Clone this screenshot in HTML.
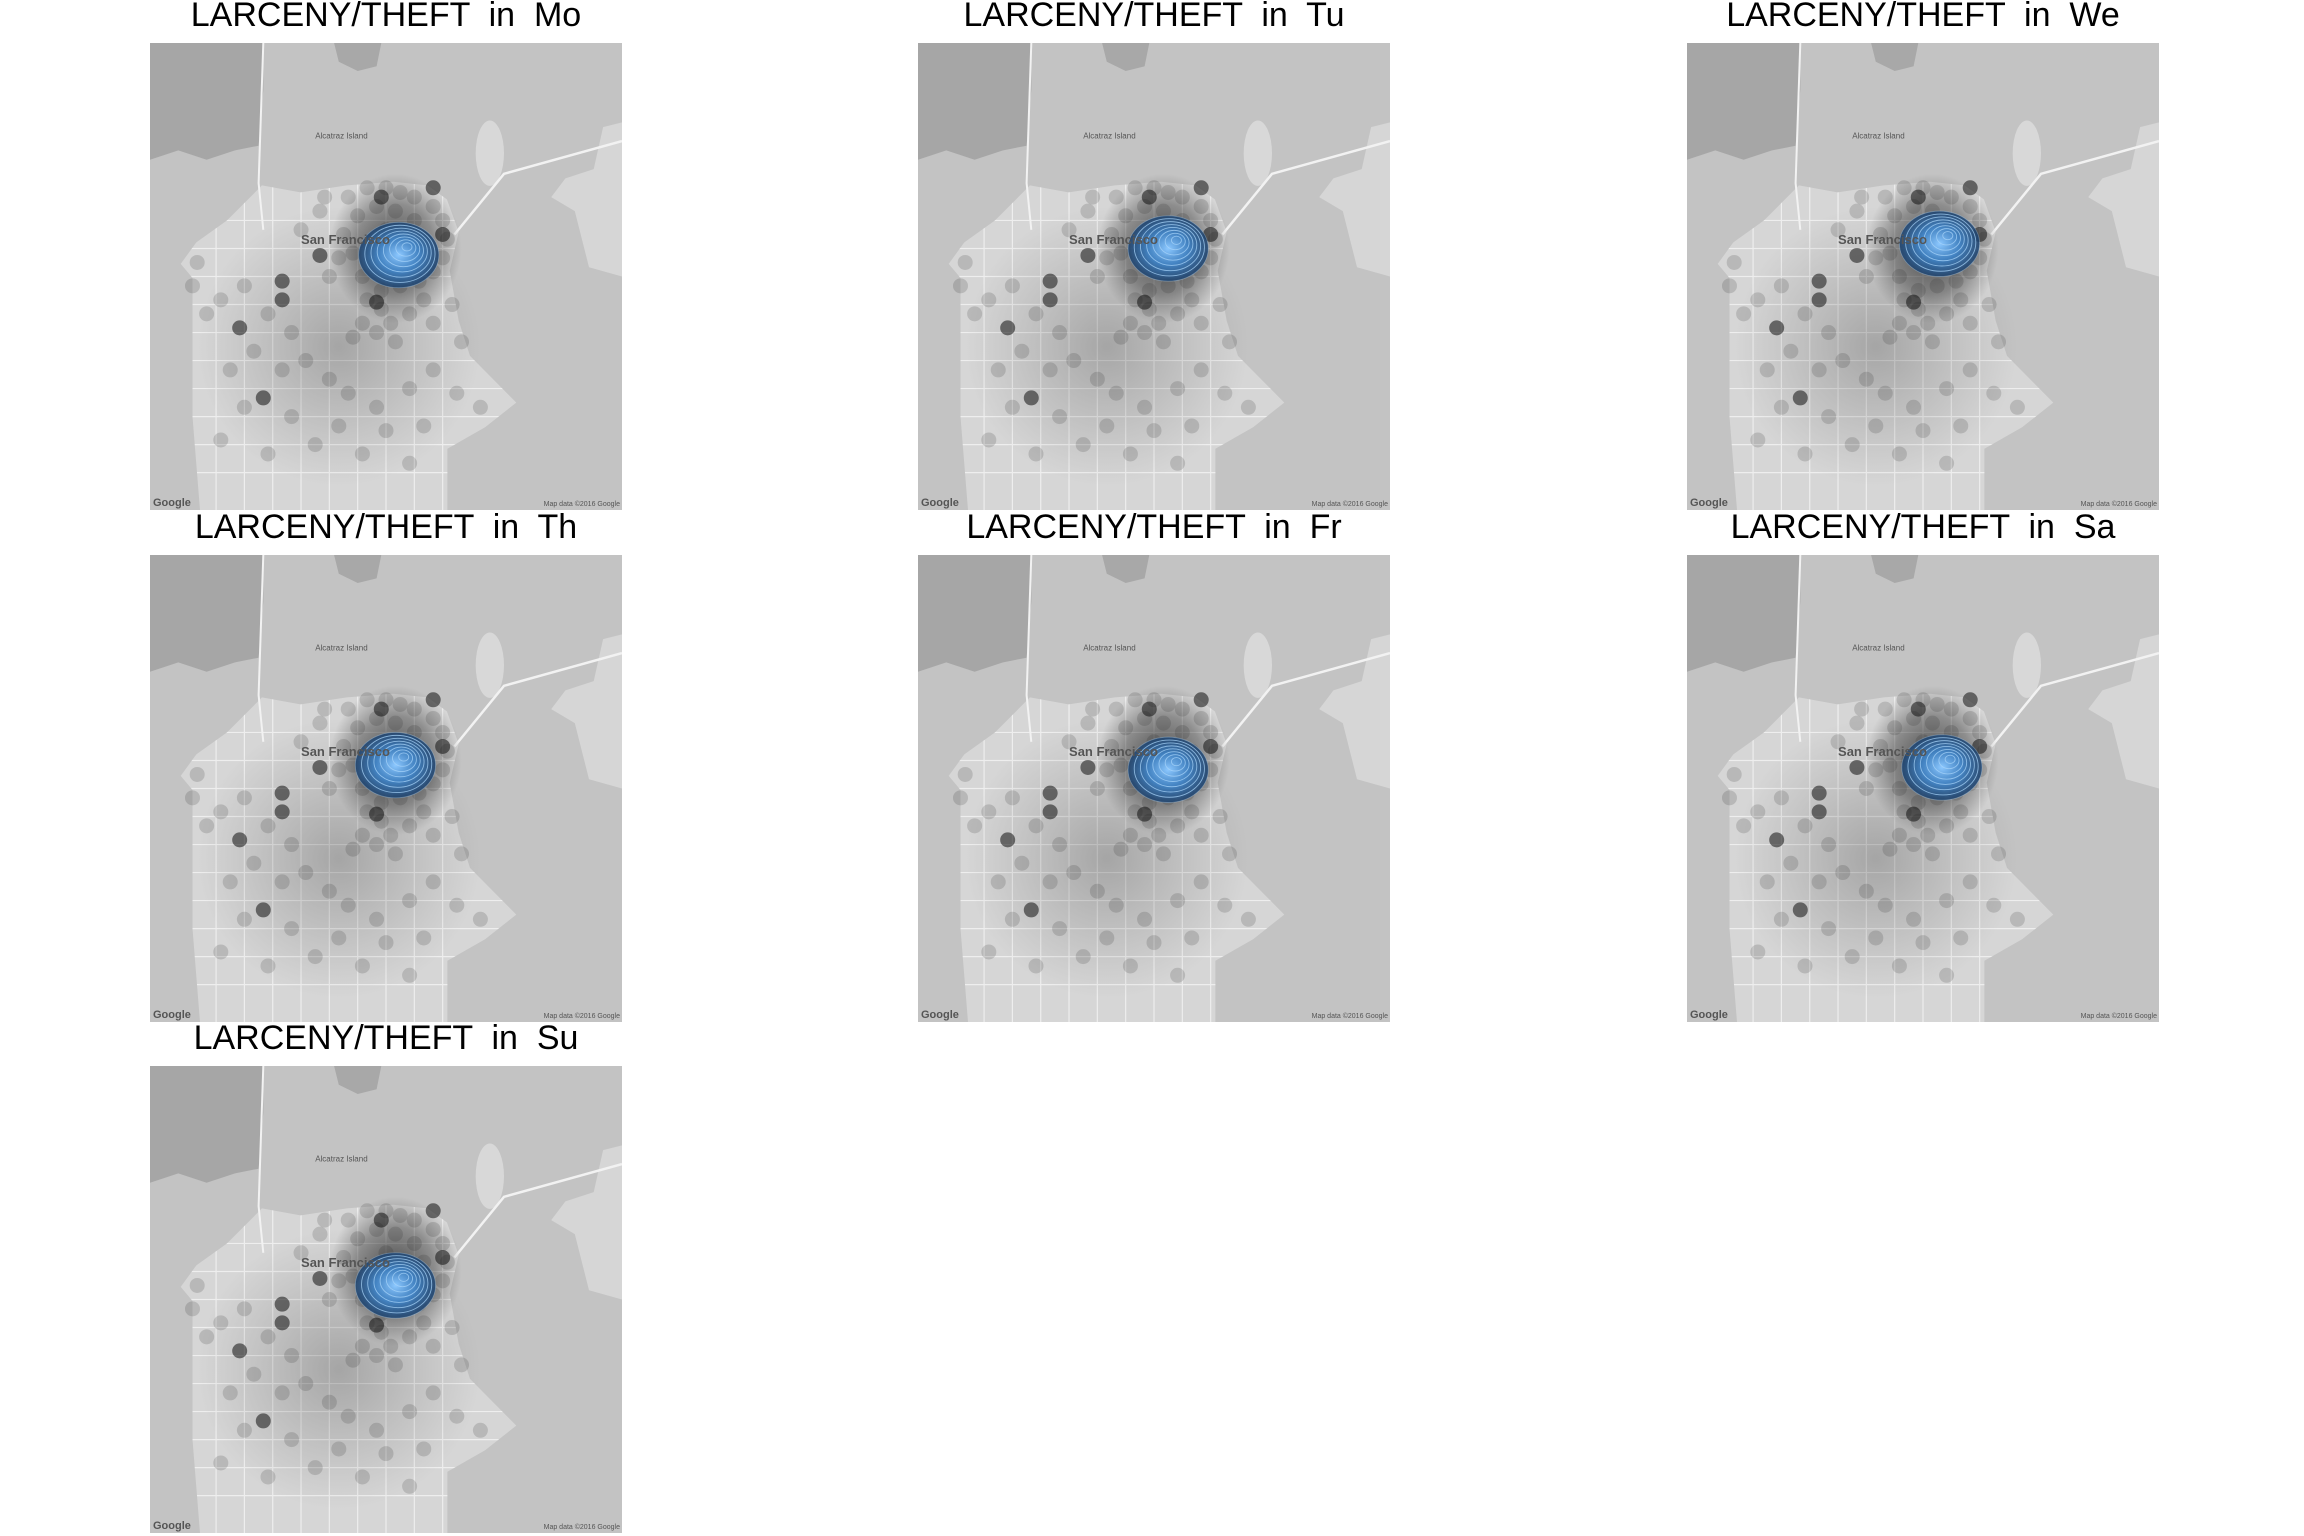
<!DOCTYPE html>
<html><head><meta charset="utf-8">
<style>
html,body{margin:0;padding:0;background:#fff;}
svg{display:block;}
text.title{font-family:"Liberation Sans",Arial,sans-serif;font-size:34px;fill:#000;white-space:pre;}
text.lbl{font-family:"Liberation Sans",Arial,sans-serif;fill:#555;}
</style></head>
<body>
<svg id="chart" width="2304" height="1536" viewBox="0 0 2304 1536" xmlns="http://www.w3.org/2000/svg">
<defs>
 <radialGradient id="cloud" cx="50%" cy="50%" r="50%">
  <stop offset="0" stop-color="#111" stop-opacity="0.7"/>
  <stop offset="0.6" stop-color="#222" stop-opacity="0.4"/>
  <stop offset="1" stop-color="#333" stop-opacity="0"/>
 </radialGradient>
 <radialGradient id="cloud2" cx="50%" cy="50%" r="50%">
  <stop offset="0" stop-color="#333" stop-opacity="0.3"/>
  <stop offset="1" stop-color="#444" stop-opacity="0"/>
 </radialGradient>
 <radialGradient id="core" cx="50%" cy="50%" r="50%">
  <stop offset="0" stop-color="#8cc8ff" stop-opacity="1"/>
  <stop offset="0.5" stop-color="#3f86cc" stop-opacity="0.9"/>
  <stop offset="1" stop-color="#1b406c" stop-opacity="0.85"/>
 </radialGradient>
</defs>
</svg>
<script>
// ---- data ----
const days = ['Mo','Tu','We','Th','Fr','Sa','Su'];
const peakX = [54.7, 55.0, 55.5, 54.0, 55.0, 56.0, 54.0];
const peakY = [43.4, 42.0, 41.0, 43.0, 44.0, 43.5, 45.0];
const levels = [1,2,3,4,5,6,7,8];
const ptX = [37,42,46,50,53,56,60,62,63,62,60,57,53,49,45,43,41,44,48,52,56,58,50,47,52,55,40,38,46,49,51,48,52,55,58,60,45,43,
             15,20,25,30,22,17,28,33,38,42,48,55,60,65,70,58,50,40,30,20,15,25,35,45,55,10,9,12,32,36,64,66];
const ptY = [33,33,31,31,32,33,35,38,42,46,49,51,52,53,50,45,41,37,35,36,38,42,40,44,47,46,46,50,55,57,60,62,64,58,55,60,60,63,
             55,52,58,62,66,70,70,68,72,75,78,74,70,75,78,82,83,82,80,78,85,88,86,88,90,47,52,58,40,36,56,64];
const darkX = [48,36,28,28,19,24,62,49,60];
const darkY = [55.5,45.5,51,55,61,76,41,33,31];

// ---- layout ----
const colX = [150, 918, 1687];
const rowY = [43, 555, 1066];
const PW = 472, PH = 467;
const NS = 'http://www.w3.org/2000/svg';
const svg = document.getElementById('chart');

function mk(tag, attrs, parent){
  const e = document.createElementNS(NS, tag);
  for (const k in attrs) e.setAttribute(k, attrs[k]);
  parent.appendChild(e);
  return e;
}
function pts(arr, sx, sy){ return arr.map(p => sx(p[0]).toFixed(1)+','+sy(p[1]).toFixed(1)).join(' '); }

const land = [[23.7,30.5],[31.9,32],[41.7,30.5],[51.5,29.7],[58.8,30.5],[62.9,33.5],[65.4,40.4],[63.5,48.8],[65.4,59.5],[67.8,67],[77.6,77],[71,82.3],[63,86.9],[63,100],[10.6,100],[9,80],[9,50.3],[6.5,47.3],[9.8,42.7],[16.3,38]];
const marin = [[0,0],[24,0],[24,10],[23,22],[18,23],[12,25],[6,23],[0,25]];
const angel = [[39,0],[49,0],[48,5],[44,6],[40,4]];
const eastbay = [[96,18],[100,17],[100,50],[93,48],[90,36],[85,33],[88,29],[94,27]];
const bridge = [[64.5,41],[75,28],[100,21]];
const roadsH = [38,44,50,56,62,68,74,80,86,92];
const roadsV = [14,20,26,32,38,44,50,56,62];

days.forEach((d, i) => {
  const ox = colX[i % 3], oy = rowY[Math.floor(i / 3)];
  const sx = v => ox + v / 100 * PW;
  const sy = v => oy + v / 100 * PH;
  const g = mk('g', {}, svg);
  
  

  const t = mk('text', {x: ox + PW/2, y: oy - 17, 'text-anchor': 'middle', class: 'title'}, g);
  
  
  t.textContent = 'LARCENY/THEFT  in  ' + d;

  const clipId = 'clip' + i;
  const cp = mk('clipPath', {id: clipId}, g);
  mk('rect', {x: ox, y: oy, width: PW, height: PH}, cp);
  const m = mk('g', {'clip-path': 'url(#' + clipId + ')'}, g);
  
  

  mk('rect', {x: ox, y: oy, width: PW, height: PH, fill: '#c3c3c3'}, m);
  mk('polygon', {points: pts(marin, sx, sy), fill: '#a6a6a6'}, m);
  mk('polygon', {points: pts(angel, sx, sy), fill: '#a8a8a8'}, m);
  mk('polygon', {points: pts(eastbay, sx, sy), fill: '#d6d6d6'}, m);
  mk('ellipse', {cx: sx(72), cy: sy(23.6), rx: PW*0.03, ry: PH*0.07, fill: '#d8d8d8'}, m);
  const landClip = 'land' + i;
  const lc = mk('clipPath', {id: landClip}, g);
  mk('polygon', {points: pts(land, sx, sy)}, lc);
  mk('polygon', {points: pts(land, sx, sy), fill: '#d6d6d6'}, m);
  const rg = mk('g', {'clip-path': 'url(#' + landClip + ')', stroke: '#f4f4f4', 'stroke-width': 1.2, opacity: 0.8}, m);
  roadsH.forEach(r => mk('line', {x1: ox, x2: ox + PW, y1: sy(r), y2: sy(r)}, rg));
  roadsV.forEach(r => mk('line', {x1: sx(r), x2: sx(r), y1: oy, y2: oy + PH}, rg));
  mk('polyline', {points: pts(bridge, sx, sy), fill: 'none', stroke: '#f2f2f2', 'stroke-width': 2.5}, m);
  mk('polyline', {points: pts([[24,0],[23,30],[24,40]], sx, sy), fill: 'none', stroke: '#f2f2f2', 'stroke-width': 2}, m);

  mk('ellipse', {cx: sx(40), cy: sy(65), rx: PW*0.3, ry: PH*0.3, fill: 'url(#cloud2)'}, m);
  mk('ellipse', {cx: sx(52), cy: sy(44), rx: PW*0.14, ry: PH*0.16, fill: 'url(#cloud)'}, m);

  const pg = mk('g', {}, m);
  
  
  ptX.forEach((x, k) => {
    const c = mk('circle', {cx: sx(x), cy: sy(ptY[k]), r: 7.5, fill: '#222', 'fill-opacity': 0.16}, pg);
    
    
  });
  darkX.forEach((x, k) => {
    const c = mk('circle', {cx: sx(x), cy: sy(darkY[k]), r: 7.5, fill: '#111', 'fill-opacity': 0.55}, pg);
    
    
  });

  const cg = mk('g', {}, m);
  
  
  const maxL = levels[levels.length - 1];
  levels.forEach(l => {
    const f = 1 - (l - 1) / maxL;
    const e = mk('ellipse', {cx: sx(peakX[i] - 2 * f), cy: sy(peakY[i] + 2 * f), rx: PW*0.085*f, ry: PH*0.07*f,
      fill: l === 1 ? 'url(#core)' : 'none',
      stroke: '#a8d4fa', 'stroke-width': 0.9, 'stroke-opacity': l === 1 ? 0.35 : 0.75}, cg);
    
    
  });

  const lbl = mk('text', {x: sx(32), y: sy(43), class: 'lbl', 'font-size': 13, 'font-weight': 'bold', fill: '#222'}, m);
  lbl.textContent = 'San Francisco';
  const al = mk('text', {x: sx(35), y: sy(20.5), class: 'lbl', 'font-size': 8}, m);
  al.textContent = 'Alcatraz Island';
  const gg = mk('text', {x: ox + 3, y: oy + PH - 4, class: 'lbl', 'font-size': 11, 'font-weight': 'bold', fill: '#666'}, m);
  gg.textContent = 'Google';
  const md = mk('text', {x: ox + PW - 2, y: oy + PH - 4, class: 'lbl', 'font-size': 7, 'text-anchor': 'end', fill: '#333'}, m);
  md.textContent = 'Map data ©2016 Google';
});
</script>
</body></html>
